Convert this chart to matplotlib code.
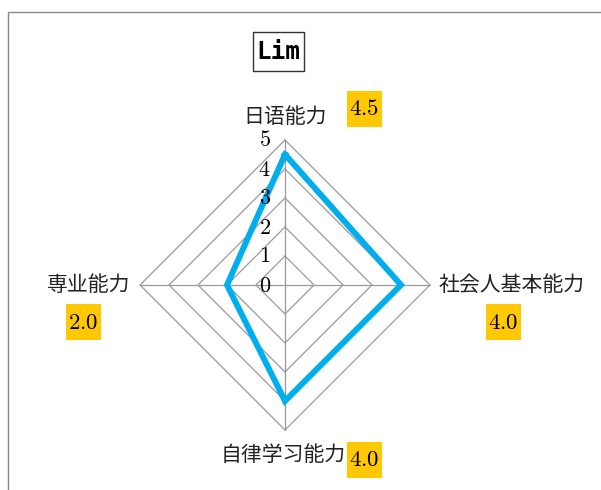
import numpy as np
import matplotlib
matplotlib.use("Agg")
import matplotlib.pyplot as plt
from matplotlib.patches import Rectangle

plt.rcParams['font.family'] = ['Noto Sans CJK JP', 'DejaVu Sans']
plt.rcParams['mathtext.fontset'] = 'cm'

# data
categories = ["日语能力", "社会人基本能力", "自律学习能力", "専业能力"]
values = [4.5, 4.0, 4.0, 2.0]
levels = [0, 1, 2, 3, 4, 5]
title = "Lim"

# figure in pixel-like units: 1 unit = 29 px, centre at (285, 285)
W, H = 601, 490
cx, cy, unit = 285, 285, 29.0
fig = plt.figure(figsize=(W / 100, H / 100), dpi=100)
ax = fig.add_axes([0, 0, 1, 1])
ax.set_xlim(-cx / unit, (W - cx) / unit)
ax.set_ylim(-(H - cy) / unit, cy / unit)
ax.axis("off")

angles = np.arange(len(categories)) * 2 * np.pi / len(categories)
sx, sy = np.sin(angles), np.cos(angles)

# outer frame (left and top edges visible)
fig.patches.append(Rectangle((8 / W, -0.1), 1.2, 1 - 12 / H + 0.1, transform=fig.transFigure,
                             fill=False, edgecolor="#888888", linewidth=1.0))

# grid
for r in levels[1:]:
    ax.plot(np.append(sx, sx[0]) * r, np.append(sy, sy[0]) * r, color="#999999", lw=0.9, zorder=1)
for i in range(len(categories)):
    ax.plot([0, sx[i] * 5], [0, sy[i] * 5], color="#999999", lw=0.9, zorder=1)

# radial labels
for r in levels:
    ax.text(-0.7, r, f"${r}$", ha="center", va="center", fontsize=16, zorder=3)

# data polygon
ax.plot(np.append(sx * values, sx[0] * values[0]), np.append(sy * values, sy[0] * values[0]),
        color="#00AEEF", lw=4.3, solid_joinstyle="miter", zorder=2)

# category labels
lab = dict(fontsize=15, color="#222222", va="center")
ax.text(0, 5.8, categories[0], ha="center", **lab)
ax.text(5.28, 0, categories[1], ha="left", **lab)
ax.text(2.1, -5.85, categories[2], ha="right", **lab)
ax.text(-5.33, 0, categories[3], ha="right", **lab)

# value boxes
bw, bh = 35 / unit, 36 / unit
vpos = [(2.74, 6.07), (7.53, -1.28), (2.74, -6.03), (-6.95, -1.28)]
for (x, y), v in zip(vpos, values):
    ax.add_patch(Rectangle((x - bw / 2, y - bh / 2), bw, bh, facecolor="#FFC800",
                           edgecolor="none", zorder=3))
    ax.text(x, y, f"${v:.1f}$", ha="center", va="center", fontsize=16.5, zorder=4)

# title
tw, th = 51 / unit, 39 / unit
tx, ty = -0.24, 8.05
ax.add_patch(Rectangle((tx - tw / 2, ty - th / 2), tw, th, facecolor="white",
                       edgecolor="#333333", lw=1, zorder=3))
ax.text(tx, ty, title, ha="center", va="center", fontsize=17.5, fontweight="bold",
        family="DejaVu Sans Mono", zorder=4)

fig.savefig("out.png", dpi=100)
